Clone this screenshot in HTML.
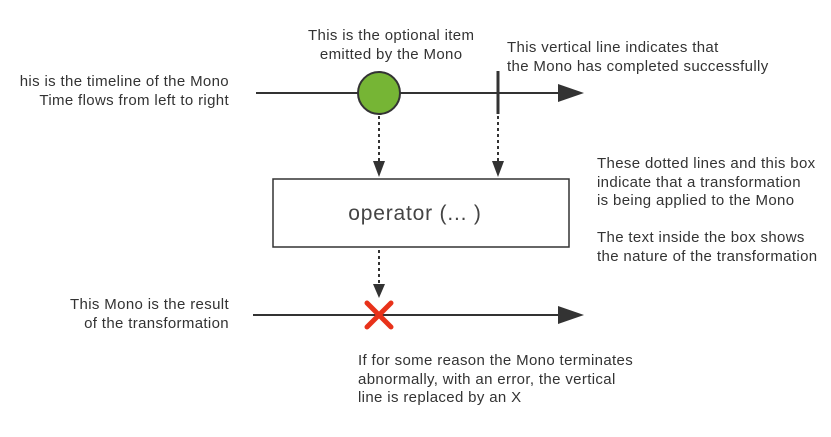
<!DOCTYPE html>
<html><head><style>
body{margin:0;background:#fff;width:831px;height:437px;overflow:hidden;position:relative;font-family:"Liberation Sans",sans-serif;color:#333;font-size:15px;letter-spacing:0.35px;}
.t{position:absolute;line-height:18.5px;white-space:nowrap;}
</style></head><body>
<svg width="831" height="437" style="position:absolute;left:0;top:0">
<line x1="256" y1="93" x2="560" y2="93" stroke="#333" stroke-width="2"/>
<path d="M558,84L584,93L558,102z" fill="#333"/>
<line x1="253" y1="315" x2="560" y2="315" stroke="#333" stroke-width="2"/>
<path d="M558,306L584,315L558,324z" fill="#333"/>
<line x1="498" y1="71" x2="498" y2="114" stroke="#333" stroke-width="3"/>
<circle cx="379" cy="93" r="21" fill="#76b535" stroke="#333" stroke-width="2"/>
<line x1="379" y1="116" x2="379" y2="162" stroke="#333" stroke-width="2" stroke-dasharray="3,3"/>
<path d="M373,161L385,161L379,177z" fill="#333"/>
<line x1="498" y1="116" x2="498" y2="162" stroke="#333" stroke-width="2" stroke-dasharray="3,3"/>
<path d="M492,161L504,161L498,177z" fill="#333"/>
<rect x="273" y="179" width="296" height="68" fill="#fff" stroke="#333" stroke-width="1.5"/>
<text x="415" y="220" font-family="Liberation Sans" font-size="21" letter-spacing="0.8" fill="#444" text-anchor="middle">operator (... )</text>
<line x1="379" y1="250" x2="379" y2="285" stroke="#333" stroke-width="2" stroke-dasharray="3,3"/>
<path d="M373,284L385,284L379,298z" fill="#333"/>
<path d="M367,303L391,327M391,303L367,327" stroke="#e8321a" stroke-width="5" stroke-linecap="round"/>
</svg>
<div class="t" style="left:308px;top:27px;text-align:center">This is the optional item<br>emitted by the Mono</div>
<div class="t" style="left:507px;top:39px">This vertical line indicates that<br>the Mono has completed successfully</div>
<div class="t" style="right:602px;top:73px;text-align:right">his is the timeline of the Mono<br>Time flows from left to right</div>
<div class="t" style="left:597px;top:155px">These dotted lines and this box<br>indicate that a transformation<br>is being applied to the Mono<br><br>The text inside the box shows<br>the nature of the transformation</div>
<div class="t" style="right:602px;top:296px;text-align:right">This Mono is the result<br>of the transformation</div>
<div class="t" style="left:358px;top:352px">If for some reason the Mono terminates<br>abnormally, with an error, the vertical<br>line is replaced by an X</div>
</body></html>
